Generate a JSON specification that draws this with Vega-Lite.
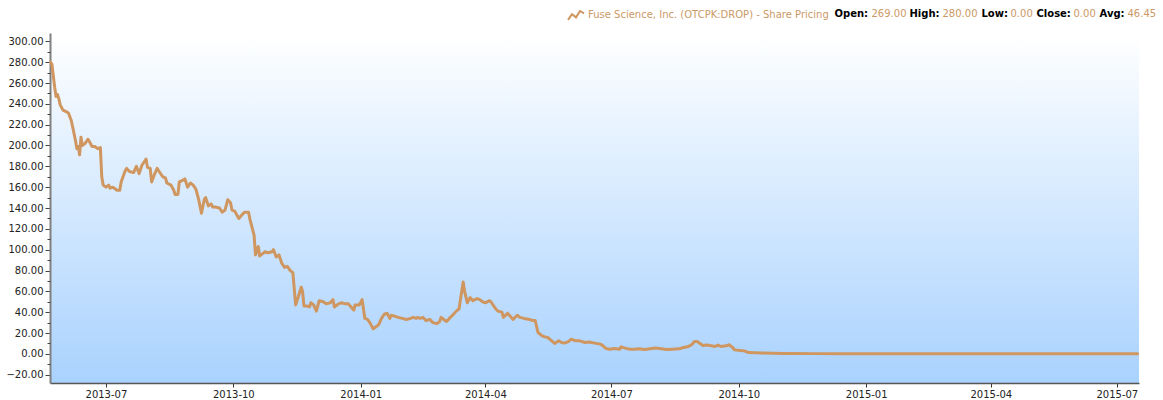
{
  "$schema": "https://vega.github.io/schema/vega-lite/v6.json",
  "width": 1089,
  "height": 350,
  "autosize": {"type": "none"},
  "padding": {"left": 50, "top": 33, "right": 24, "bottom": 17},
  "background": "#ffffff",
  "view": {"stroke": null, "fill": {"gradient": "linear", "x1": 0, "y1": 0, "x2": 0, "y2": 1, "stops": [{"offset": 0, "color": "#ffffff"}, {"offset": 1, "color": "#a9d2fe"}]}},
  "config": {
    "font": "DejaVu Sans",
    "axis": {"labelFont": "DejaVu Sans", "labelFontSize": 10, "labelColor": "#222222", "grid": false},
    "legend": {"labelFont": "DejaVu Sans"}
  },
  "layer": [
    {
      "data": {"values": [
        {"date": "2013-05-22", "price": 280}, {"date": "2013-05-23", "price": 278}, {"date": "2013-05-25", "price": 256}, {"date": "2013-05-26", "price": 247}, {"date": "2013-05-27", "price": 249}, {"date": "2013-05-28", "price": 245}, {"date": "2013-05-29", "price": 239}, {"date": "2013-05-31", "price": 234}, {"date": "2013-06-03", "price": 232}, {"date": "2013-06-04", "price": 231}, {"date": "2013-06-06", "price": 224}, {"date": "2013-06-09", "price": 205}, {"date": "2013-06-10", "price": 197}, {"date": "2013-06-11", "price": 199}, {"date": "2013-06-12", "price": 191}, {"date": "2013-06-13", "price": 208}, {"date": "2013-06-14", "price": 200}, {"date": "2013-06-16", "price": 202}, {"date": "2013-06-18", "price": 206}, {"date": "2013-06-19", "price": 204}, {"date": "2013-06-21", "price": 199}, {"date": "2013-06-23", "price": 199}, {"date": "2013-06-25", "price": 197}, {"date": "2013-06-27", "price": 198}, {"date": "2013-06-28", "price": 170}, {"date": "2013-06-29", "price": 162},
        {"date": "2013-07-01", "price": 160}, {"date": "2013-07-03", "price": 162}, {"date": "2013-07-04", "price": 159}, {"date": "2013-07-06", "price": 160}, {"date": "2013-07-09", "price": 157}, {"date": "2013-07-11", "price": 157}, {"date": "2013-07-12", "price": 165}, {"date": "2013-07-15", "price": 176}, {"date": "2013-07-16", "price": 178}, {"date": "2013-07-18", "price": 175}, {"date": "2013-07-21", "price": 174}, {"date": "2013-07-23", "price": 180}, {"date": "2013-07-25", "price": 173}, {"date": "2013-07-27", "price": 181}, {"date": "2013-07-30", "price": 187}, {"date": "2013-07-31", "price": 179},
        {"date": "2013-08-02", "price": 178}, {"date": "2013-08-03", "price": 165}, {"date": "2013-08-05", "price": 172}, {"date": "2013-08-07", "price": 178}, {"date": "2013-08-08", "price": 176}, {"date": "2013-08-11", "price": 170}, {"date": "2013-08-13", "price": 169}, {"date": "2013-08-14", "price": 164}, {"date": "2013-08-17", "price": 162}, {"date": "2013-08-19", "price": 157}, {"date": "2013-08-20", "price": 153}, {"date": "2013-08-22", "price": 153}, {"date": "2013-08-23", "price": 165}, {"date": "2013-08-26", "price": 167}, {"date": "2013-08-27", "price": 168}, {"date": "2013-08-29", "price": 160}, {"date": "2013-08-31", "price": 164},
        {"date": "2013-09-02", "price": 162}, {"date": "2013-09-04", "price": 158}, {"date": "2013-09-06", "price": 148}, {"date": "2013-09-08", "price": 135}, {"date": "2013-09-10", "price": 148}, {"date": "2013-09-11", "price": 150}, {"date": "2013-09-13", "price": 142}, {"date": "2013-09-15", "price": 144}, {"date": "2013-09-16", "price": 141}, {"date": "2013-09-18", "price": 141}, {"date": "2013-09-21", "price": 140}, {"date": "2013-09-23", "price": 136}, {"date": "2013-09-25", "price": 138}, {"date": "2013-09-27", "price": 148}, {"date": "2013-09-29", "price": 145}, {"date": "2013-09-30", "price": 138},
        {"date": "2013-10-02", "price": 137}, {"date": "2013-10-05", "price": 130}, {"date": "2013-10-07", "price": 133}, {"date": "2013-10-09", "price": 136}, {"date": "2013-10-12", "price": 136}, {"date": "2013-10-13", "price": 129}, {"date": "2013-10-16", "price": 114}, {"date": "2013-10-17", "price": 95}, {"date": "2013-10-19", "price": 103}, {"date": "2013-10-20", "price": 94}, {"date": "2013-10-22", "price": 96}, {"date": "2013-10-24", "price": 98}, {"date": "2013-10-26", "price": 97}, {"date": "2013-10-29", "price": 98}, {"date": "2013-10-30", "price": 100},
        {"date": "2013-11-01", "price": 93}, {"date": "2013-11-03", "price": 95}, {"date": "2013-11-05", "price": 87}, {"date": "2013-11-07", "price": 83}, {"date": "2013-11-09", "price": 84}, {"date": "2013-11-11", "price": 80}, {"date": "2013-11-13", "price": 78}, {"date": "2013-11-15", "price": 47}, {"date": "2013-11-17", "price": 55}, {"date": "2013-11-19", "price": 64}, {"date": "2013-11-20", "price": 60}, {"date": "2013-11-21", "price": 46}, {"date": "2013-11-23", "price": 46}, {"date": "2013-11-25", "price": 45}, {"date": "2013-11-26", "price": 49}, {"date": "2013-11-28", "price": 47}, {"date": "2013-11-30", "price": 41},
        {"date": "2013-12-02", "price": 51}, {"date": "2013-12-05", "price": 50}, {"date": "2013-12-07", "price": 48}, {"date": "2013-12-10", "price": 49}, {"date": "2013-12-12", "price": 52}, {"date": "2013-12-13", "price": 45}, {"date": "2013-12-16", "price": 48}, {"date": "2013-12-18", "price": 49}, {"date": "2013-12-21", "price": 48}, {"date": "2013-12-23", "price": 48}, {"date": "2013-12-25", "price": 45}, {"date": "2013-12-27", "price": 42}, {"date": "2013-12-28", "price": 47}, {"date": "2013-12-31", "price": 47},
        {"date": "2014-01-02", "price": 52}, {"date": "2014-01-04", "price": 34}, {"date": "2014-01-06", "price": 33}, {"date": "2014-01-08", "price": 29}, {"date": "2014-01-10", "price": 24}, {"date": "2014-01-12", "price": 26}, {"date": "2014-01-14", "price": 28}, {"date": "2014-01-16", "price": 34}, {"date": "2014-01-18", "price": 38}, {"date": "2014-01-20", "price": 39}, {"date": "2014-01-22", "price": 34}, {"date": "2014-01-23", "price": 37}, {"date": "2014-01-26", "price": 36}, {"date": "2014-01-28", "price": 35}, {"date": "2014-01-31", "price": 34},
        {"date": "2014-02-03", "price": 33}, {"date": "2014-02-06", "price": 34}, {"date": "2014-02-08", "price": 35}, {"date": "2014-02-10", "price": 34}, {"date": "2014-02-11", "price": 35}, {"date": "2014-02-13", "price": 34}, {"date": "2014-02-15", "price": 35}, {"date": "2014-02-17", "price": 32}, {"date": "2014-02-20", "price": 33}, {"date": "2014-02-22", "price": 30}, {"date": "2014-02-25", "price": 29}, {"date": "2014-02-27", "price": 31}, {"date": "2014-02-28", "price": 35},
        {"date": "2014-03-02", "price": 33}, {"date": "2014-03-04", "price": 31}, {"date": "2014-03-06", "price": 34}, {"date": "2014-03-09", "price": 38}, {"date": "2014-03-11", "price": 41}, {"date": "2014-03-13", "price": 43}, {"date": "2014-03-14", "price": 52}, {"date": "2014-03-16", "price": 69}, {"date": "2014-03-17", "price": 60}, {"date": "2014-03-19", "price": 49}, {"date": "2014-03-21", "price": 54}, {"date": "2014-03-23", "price": 51}, {"date": "2014-03-26", "price": 53}, {"date": "2014-03-28", "price": 52}, {"date": "2014-03-30", "price": 50},
        {"date": "2014-04-01", "price": 49}, {"date": "2014-04-04", "price": 51}, {"date": "2014-04-05", "price": 50}, {"date": "2014-04-08", "price": 44}, {"date": "2014-04-10", "price": 41}, {"date": "2014-04-13", "price": 40}, {"date": "2014-04-14", "price": 35}, {"date": "2014-04-17", "price": 39}, {"date": "2014-04-19", "price": 36}, {"date": "2014-04-21", "price": 33}, {"date": "2014-04-24", "price": 37}, {"date": "2014-04-26", "price": 35}, {"date": "2014-04-29", "price": 34},
        {"date": "2014-05-03", "price": 33}, {"date": "2014-05-05", "price": 32}, {"date": "2014-05-07", "price": 32}, {"date": "2014-05-09", "price": 20.5}, {"date": "2014-05-12", "price": 17.3}, {"date": "2014-05-14", "price": 16.3}, {"date": "2014-05-16", "price": 15.7}, {"date": "2014-05-19", "price": 12.5}, {"date": "2014-05-21", "price": 9.9}, {"date": "2014-05-24", "price": 12.5}, {"date": "2014-05-26", "price": 10.9}, {"date": "2014-05-28", "price": 10.3}, {"date": "2014-05-31", "price": 11.8},
        {"date": "2014-06-02", "price": 14.1}, {"date": "2014-06-05", "price": 12.5}, {"date": "2014-06-08", "price": 12.5}, {"date": "2014-06-12", "price": 10.9}, {"date": "2014-06-15", "price": 11.3}, {"date": "2014-06-19", "price": 10.3}, {"date": "2014-06-23", "price": 9.3}, {"date": "2014-06-25", "price": 7.7}, {"date": "2014-06-27", "price": 5.1}, {"date": "2014-06-30", "price": 4.5},
        {"date": "2014-07-03", "price": 5.1}, {"date": "2014-07-07", "price": 4.5}, {"date": "2014-07-08", "price": 6.7}, {"date": "2014-07-11", "price": 5.5}, {"date": "2014-07-14", "price": 4.5}, {"date": "2014-07-18", "price": 4.5}, {"date": "2014-07-21", "price": 4.8}, {"date": "2014-07-25", "price": 4.1}, {"date": "2014-07-29", "price": 4.8},
        {"date": "2014-08-02", "price": 5.5}, {"date": "2014-08-06", "price": 4.8}, {"date": "2014-08-10", "price": 4.1}, {"date": "2014-08-14", "price": 4.5}, {"date": "2014-08-19", "price": 4.8}, {"date": "2014-08-22", "price": 6.1}, {"date": "2014-08-25", "price": 6.7}, {"date": "2014-08-28", "price": 8.7}, {"date": "2014-08-30", "price": 11.8},
        {"date": "2014-09-01", "price": 11.8}, {"date": "2014-09-03", "price": 9.9}, {"date": "2014-09-05", "price": 8}, {"date": "2014-09-08", "price": 8.4}, {"date": "2014-09-11", "price": 7.7}, {"date": "2014-09-14", "price": 7}, {"date": "2014-09-16", "price": 8.4}, {"date": "2014-09-18", "price": 7}, {"date": "2014-09-22", "price": 7.7}, {"date": "2014-09-24", "price": 8.7}, {"date": "2014-09-26", "price": 6.7}, {"date": "2014-09-28", "price": 3.8},
        {"date": "2014-10-02", "price": 3.2}, {"date": "2014-10-05", "price": 2.9}, {"date": "2014-10-08", "price": 1.25}, {"date": "2014-10-12", "price": 1.0}, {"date": "2014-10-18", "price": 0.7}, {"date": "2014-10-26", "price": 0.5},
        {"date": "2014-11-02", "price": 0.4}, {"date": "2014-11-09", "price": 0.3}, {"date": "2014-11-24", "price": 0.2}, {"date": "2014-12-15", "price": 0.15}, {"date": "2015-01-15", "price": 0.1}, {"date": "2015-03-01", "price": 0.05}, {"date": "2015-05-01", "price": 0.02}, {"date": "2015-07-16", "price": 0}
      ]},
      "mark": {"type": "line", "strokeWidth": 3, "strokeJoin": "round", "strokeCap": "round"},
      "encoding": {
        "x": {
          "field": "date", "type": "temporal",
          "scale": {"domain": [{"year": 2013, "month": 5, "date": 21, "hours": 15}, {"year": 2015, "month": 7, "date": 17}], "nice": false},
          "axis": {"title": null, "format": "%Y-%m", "tickCount": {"interval": "month", "step": 3}, "tickSize": 4, "tickColor": "#333333", "domainColor": "#555555", "domainWidth": 1.5, "labelPadding": 2, "labelOverlap": false, "labelFlush": false}
        },
        "y": {
          "field": "price", "type": "quantitative",
          "scale": {"domain": [-28, 308], "nice": false, "zero": false},
          "axis": {"title": null, "orient": "left", "values": [-20, 0, 20, 40, 60, 80, 100, 120, 140, 160, 180, 200, 220, 240, 260, 280, 300], "format": ".2f", "tickSize": 5, "tickColor": "#444444", "domainColor": "#808080", "domainWidth": 2, "labelPadding": 2}
        },
        "color": {
          "datum": "Fuse Science, Inc. (OTCPK:DROP) - Share Pricing", "type": "nominal",
          "scale": {"range": ["#cf9660"]},
          "legend": {"orient": "none", "legendX": 517, "legendY": -27, "title": null, "padding": 0, "symbolType": "M-1,0.6L-0.5,-0.1L0,0.3L0.5,-0.5L1,-0.2", "symbolSize": 256, "symbolStrokeWidth": 2, "symbolFillColor": "transparent", "labelFontSize": 10, "labelColor": "#cc9966", "labelOffset": 3, "labelLimit": 500}
        }
      }
    },
    {
      "data": {"values": [{}]},
      "mark": {"type": "rule", "opacity": 0},
      "encoding": {
        "y": {
          "datum": 0, "type": "quantitative",
          "scale": {"domain": [-28, 308], "nice": false, "zero": false},
          "axis": {"title": null, "orient": "left", "values": [-10, 10, 30, 50, 70, 90, 110, 130, 150, 170, 190, 210, 230, 250, 270, 290], "labels": false, "domain": false, "grid": false, "tickSize": 3, "tickColor": "#444444"}
        }
      }
    },
    {
      "data": {"values": [{}]},
      "mark": {"type": "rule", "opacity": 0},
      "encoding": {
        "x": {
          "datum": 0, "type": "quantitative",
          "scale": {"domain": [0, 1089], "nice": false, "zero": false},
          "axis": {
            "title": null, "orient": "top", "domain": false, "ticks": false, "tickSize": 0, "grid": false,
            "values": [784, 821, 859, 892, 931, 960, 986, 1023, 1049, 1077],
            "labelExpr": "['Open:', '269.00', 'High:', '280.00', 'Low:', '0.00', 'Close:', '0.00', 'Avg:', '46.45'][indexof([784, 821, 859, 892, 931, 960, 986, 1023, 1049, 1077], datum.value)]",
            "labelAlign": "left", "labelBaseline": "middle", "labelPadding": 20, "labelFontSize": 10,
            "labelOverlap": false, "labelFlush": false, "labelBound": false,
            "labelColor": {"condition": {"test": "indexof([784, 859, 931, 986, 1049], datum.value) >= 0", "value": "#000000"}, "value": "#cc9966"},
            "labelFontWeight": {"condition": {"test": "indexof([784, 859, 931, 986, 1049], datum.value) >= 0", "value": "bold"}, "value": "normal"}
          }
        }
      }
    }
  ],
  "resolve": {"scale": {"x": "independent"}, "axis": {"x": "independent", "y": "independent"}}
}
